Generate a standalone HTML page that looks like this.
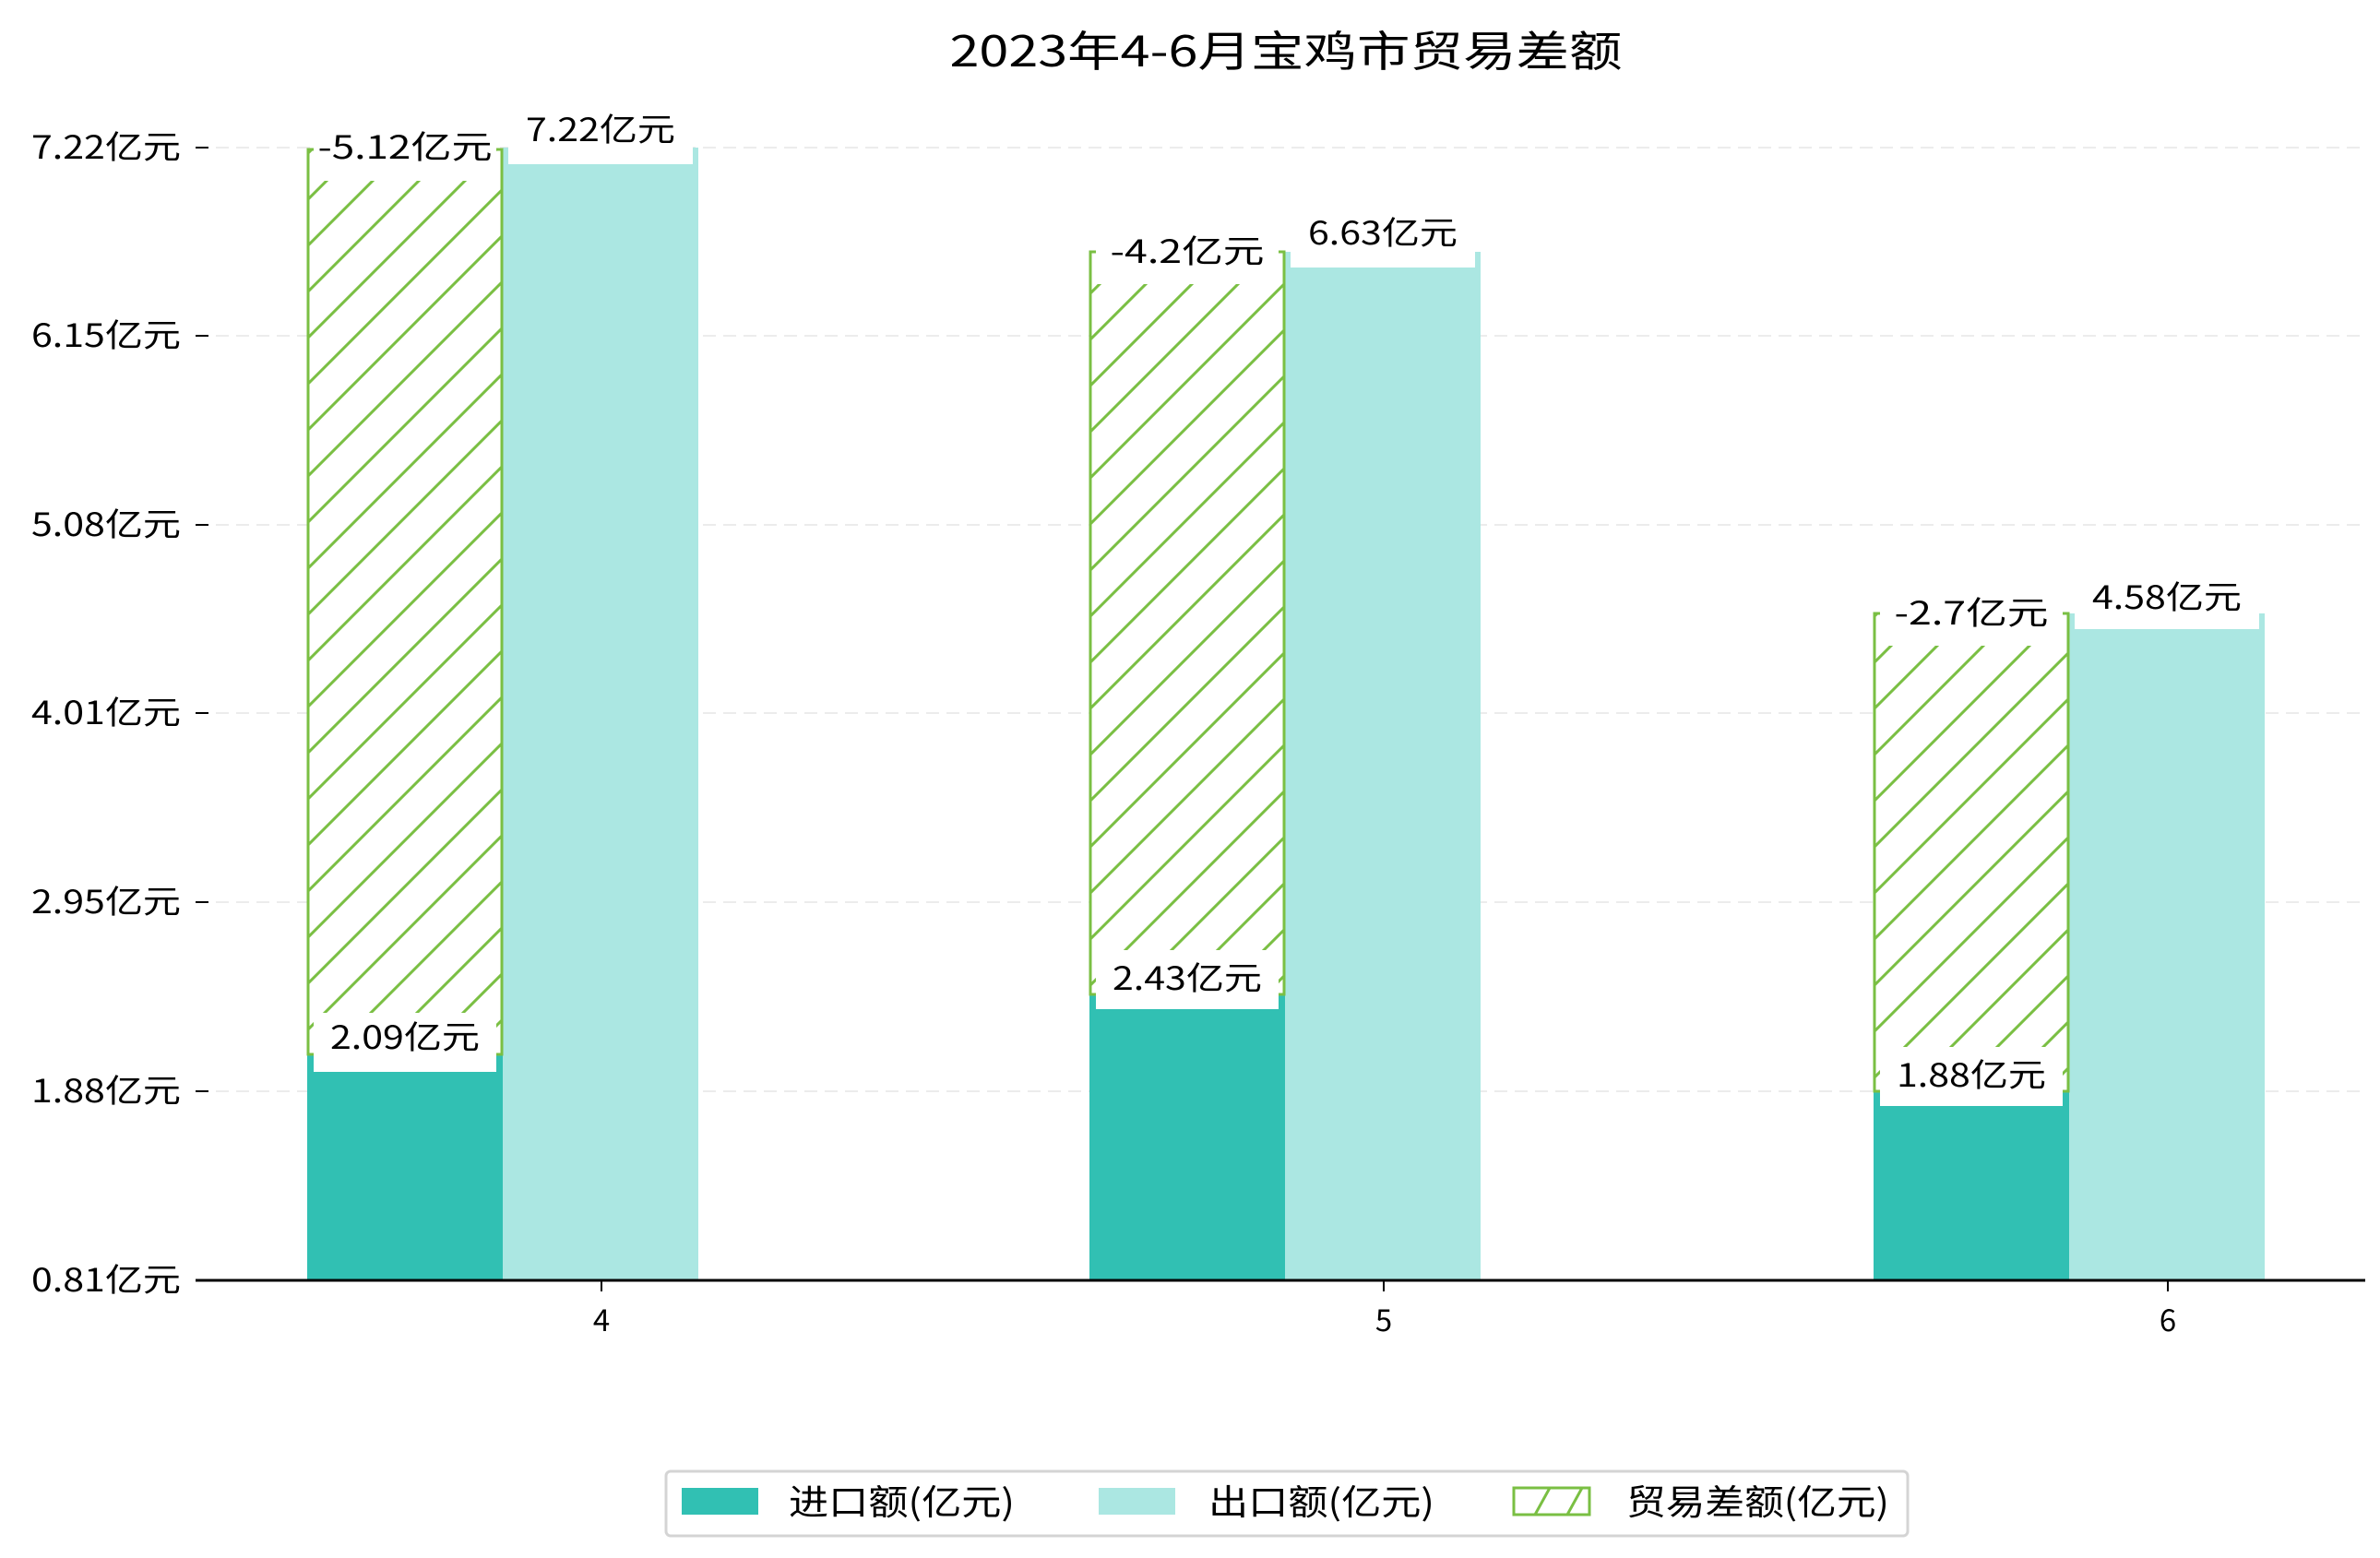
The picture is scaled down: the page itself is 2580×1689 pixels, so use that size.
<!DOCTYPE html>
<html><head><meta charset="utf-8"><style>html,body{margin:0;padding:0;background:#fff}svg{display:block}text{font-family:"WenQuanYi Zen Hei","Noto Sans CJK SC",sans-serif;fill:#000}</style></head>
<body>
<svg width="2580" height="1689" viewBox="0 0 2580 1689" xmlns="http://www.w3.org/2000/svg">
<defs>
<pattern id="h" patternUnits="userSpaceOnUse" width="50" height="50">
<rect width="50" height="50" fill="#fff"/>
<path d="M-10,60 L60,-10 M-35,35 L35,-35 M15,85 L85,15" stroke="#7abf43" stroke-width="3"/>
</pattern>
</defs>
<text x="1394" y="72" font-size="46" text-anchor="middle" textLength="729" lengthAdjust="spacingAndGlyphs">2023年4-6月宝鸡市贸易差额</text>
<g stroke="#ececec" stroke-width="2" stroke-dasharray="14,8">
<line x1="212" x2="2564" y1="160" y2="160"/><line x1="212" x2="2564" y1="364" y2="364"/><line x1="212" x2="2564" y1="569" y2="569"/><line x1="212" x2="2564" y1="773" y2="773"/><line x1="212" x2="2564" y1="978" y2="978"/><line x1="212" x2="2564" y1="1183" y2="1183"/>
</g>
<g font-size="35" text-anchor="end">
<text x="196" y="172" textLength="162" lengthAdjust="spacingAndGlyphs">7.22亿元</text><text x="196" y="376" textLength="162" lengthAdjust="spacingAndGlyphs">6.15亿元</text><text x="196" y="581" textLength="162" lengthAdjust="spacingAndGlyphs">5.08亿元</text><text x="196" y="785" textLength="162" lengthAdjust="spacingAndGlyphs">4.01亿元</text><text x="196" y="990" textLength="162" lengthAdjust="spacingAndGlyphs">2.95亿元</text><text x="196" y="1195" textLength="162" lengthAdjust="spacingAndGlyphs">1.88亿元</text><text x="196" y="1400" textLength="162" lengthAdjust="spacingAndGlyphs">0.81亿元</text>
</g>
<g stroke="#000" stroke-width="2">
<line x1="212" x2="226" y1="160" y2="160"/><line x1="212" x2="226" y1="364" y2="364"/><line x1="212" x2="226" y1="569" y2="569"/><line x1="212" x2="226" y1="773" y2="773"/><line x1="212" x2="226" y1="978" y2="978"/><line x1="212" x2="226" y1="1183" y2="1183"/>
</g>
<rect x="333" y="1143" width="212" height="245" fill="#31c0b3"/>
<rect x="545" y="160" width="212" height="1228" fill="#abe7e2"/>
<rect x="334" y="162" width="210" height="981" fill="url(#h)" stroke="#7abf43" stroke-width="3"/>
<rect x="1181" y="1078" width="212" height="310" fill="#31c0b3"/>
<rect x="1393" y="273" width="212" height="1115" fill="#abe7e2"/>
<rect x="1182" y="273" width="210" height="805" fill="url(#h)" stroke="#7abf43" stroke-width="3"/>
<rect x="2031" y="1183" width="212" height="205" fill="#31c0b3"/>
<rect x="2243" y="665" width="212" height="723" fill="#abe7e2"/>
<rect x="2032" y="665" width="210" height="518" fill="url(#h)" stroke="#7abf43" stroke-width="3"/>
<g fill="#fff">
<rect x="551" y="118" width="200" height="60"/><rect x="340" y="130" width="198" height="66"/><rect x="340" y="1098" width="198" height="64"/>
<rect x="1399" y="224" width="200" height="66"/><rect x="1188" y="242" width="198" height="66"/><rect x="1188" y="1030" width="198" height="64"/>
<rect x="2249" y="616" width="200" height="66"/><rect x="2038" y="634" width="198" height="66"/><rect x="2038" y="1135" width="198" height="64"/>
</g>
<g font-size="35" text-anchor="middle" lengthAdjust="spacingAndGlyphs">
<text x="651" y="153" textLength="162" lengthAdjust="spacingAndGlyphs">7.22亿元</text><text x="439" y="172" textLength="189" lengthAdjust="spacingAndGlyphs">-5.12亿元</text><text x="439" y="1137" textLength="162" lengthAdjust="spacingAndGlyphs">2.09亿元</text>
<text x="1499" y="265" textLength="162" lengthAdjust="spacingAndGlyphs">6.63亿元</text><text x="1287" y="285" textLength="167" lengthAdjust="spacingAndGlyphs">-4.2亿元</text><text x="1287" y="1073" textLength="162" lengthAdjust="spacingAndGlyphs">2.43亿元</text>
<text x="2349" y="660" textLength="162" lengthAdjust="spacingAndGlyphs">4.58亿元</text><text x="2137" y="677" textLength="167" lengthAdjust="spacingAndGlyphs">-2.7亿元</text><text x="2137" y="1178" textLength="162" lengthAdjust="spacingAndGlyphs">1.88亿元</text>
</g>
<line x1="212" x2="2564" y1="1388" y2="1388" stroke="#000" stroke-width="3"/>
<g stroke="#000" stroke-width="2"><line x1="652" x2="652" y1="1388" y2="1400"/><line x1="1500" x2="1500" y1="1388" y2="1400"/><line x1="2350" x2="2350" y1="1388" y2="1400"/></g>
<g font-size="33" text-anchor="middle"><text x="652" y="1443">4</text><text x="1500" y="1443">5</text><text x="2350" y="1443">6</text></g>
<rect x="722" y="1595" width="1346" height="70" rx="5" fill="#fff" stroke="#d4d4d4" stroke-width="3"/>
<rect x="739" y="1613" width="83" height="29" fill="#31c0b3"/>
<text x="855" y="1642" font-size="38" textLength="245" lengthAdjust="spacingAndGlyphs">进口额(亿元)</text>
<rect x="1191" y="1613" width="83" height="29" fill="#abe7e2"/>
<text x="1310" y="1642" font-size="38" textLength="245" lengthAdjust="spacingAndGlyphs">出口额(亿元)</text>
<rect x="1641" y="1613" width="82" height="29" fill="#fff" stroke="#7abf43" stroke-width="3"/>
<line x1="1664" y1="1642" x2="1680" y2="1613" stroke="#7abf43" stroke-width="3"/>
<line x1="1699" y1="1642" x2="1715" y2="1613" stroke="#7abf43" stroke-width="3"/>
<text x="1763" y="1642" font-size="38" textLength="285" lengthAdjust="spacingAndGlyphs">贸易差额(亿元)</text>
</svg>
</body></html>
